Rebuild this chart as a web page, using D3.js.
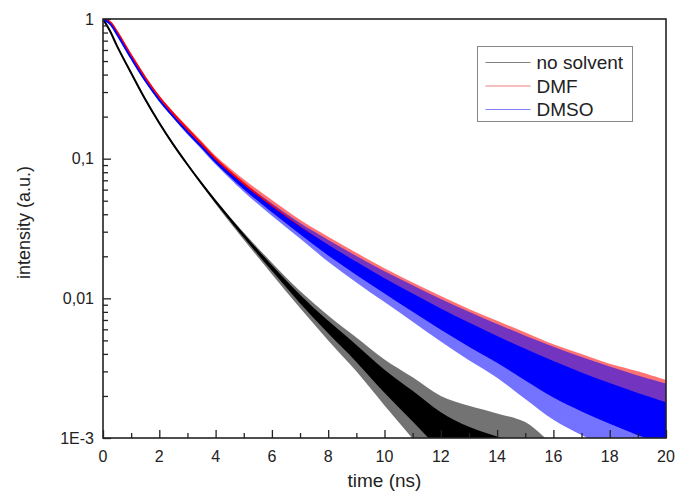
<!DOCTYPE html>
<html>
<head>
<meta charset="utf-8">
<title>decay</title>
<style type="text/css">
    body{ margin:0; background:#fff; }
    svg text{ font-family:"Liberation Sans", Arial, sans-serif; fill:#222; }
</style>
</head>
<body>
<div id="chart"></div>

<script src="https://cdn.jsdelivr.net/npm/d3@7"></script>
<script type="text/javascript">

// time axis (ns)
var times = [0, 0.25, 0.5, 1, 1.5, 2, 2.5, 3, 3.5, 4, 5, 6, 7, 8, 9, 10, 11, 12, 13, 14, 15, 16, 17, 18, 19, 20];

// no solvent: centre of the trace, plus upper / lower edge of the noise
var noSolventMid = [1, 0.82, 0.64, 0.41, 0.266, 0.180, 0.126, 0.0908, 0.0665, 0.0494, 0.0282, 0.0166, 0.0100, 0.0063, 0.0041, 0.0026, 0.00174, 0.00117, 0.00085, 0.0007, 0.0006, 0.0005, 0.0004, 0.00035, 0.0003, 0.00025];
var noSolventHi  = [1, 0.83, 0.65, 0.416, 0.270, 0.183, 0.128, 0.0922, 0.0678, 0.0509, 0.0296, 0.0180, 0.0113, 0.00755, 0.00525, 0.00365, 0.00272, 0.00200, 0.0017, 0.0015, 0.0013, 0.0009, 0.0007, 0.0006, 0.0005, 0.0004];
var noSolventLo  = [1, 0.81, 0.63, 0.402, 0.260, 0.176, 0.123, 0.0889, 0.0647, 0.0474, 0.0263, 0.0149, 0.00853, 0.0050, 0.0030, 0.00171, 0.00099, 0.00058, 0.0004, 0.0003, 0.0003, 0.0002, 0.0002, 0.0002, 0.0002, 0.0002];

// DMF
var dmfMid = [1, 0.95, 0.81, 0.55, 0.381, 0.276, 0.210, 0.163, 0.128, 0.100, 0.0663, 0.0459, 0.0324, 0.0235, 0.0174, 0.0131, 0.00991, 0.0076, 0.0059, 0.00464, 0.00369, 0.00296, 0.0024, 0.00197, 0.00165, 0.00139];
var dmfHi  = [1, 0.96, 0.82, 0.56, 0.388, 0.281, 0.216, 0.170, 0.134, 0.105, 0.0712, 0.0505, 0.0365, 0.0276, 0.0212, 0.0164, 0.0130, 0.0104, 0.0084, 0.0069, 0.0057, 0.0047, 0.0040, 0.0034, 0.0030, 0.0026];
var dmfLo  = [1, 0.93, 0.79, 0.54, 0.366, 0.266, 0.201, 0.156, 0.123, 0.0953, 0.0620, 0.0425, 0.0298, 0.0205, 0.0150, 0.0110, 0.0082, 0.0062, 0.0045, 0.0035, 0.0027, 0.0021, 0.0017, 0.0014, 0.0012, 0.0010];

// DMSO
var dmsoMid = [1, 0.923, 0.776, 0.525, 0.363, 0.263, 0.200, 0.155, 0.122, 0.0955, 0.0631, 0.0437, 0.0309, 0.0224, 0.0166, 0.01245, 0.00944, 0.00724, 0.00562, 0.00442, 0.00351, 0.00282, 0.00229, 0.00188, 0.00157, 0.00132];
var dmsoHi  = [1, 0.937, 0.788, 0.533, 0.368, 0.267, 0.204, 0.160, 0.126, 0.0993, 0.0672, 0.0477, 0.0346, 0.0262, 0.0201, 0.0156, 0.0124, 0.00990, 0.00800, 0.00655, 0.00540, 0.00450, 0.00380, 0.00325, 0.00280, 0.00245];
var dmsoLo  = [1, 0.914, 0.768, 0.515, 0.356, 0.258, 0.195, 0.149, 0.117, 0.0908, 0.0580, 0.0390, 0.0268, 0.0183, 0.0130, 0.0094, 0.0068, 0.0049, 0.0036, 0.0027, 0.0019, 0.00135, 0.00105, 0.00085, 0.0007, 0.0006];

var xTicks = [0, 2, 4, 6, 8, 10, 12, 14, 16, 18, 20];
var yTicks = [1, 0.1, 0.01, 0.001];
var yTickLabels = ["1", "0,1", "0,01", "1E-3"];

var seriesNames = ["no solvent", "DMF", "DMSO"];
var seriesColors = ["#000000", "#ff0000", "#0000ff"];
var legendColors = ["#808080", "#ee8080", "#8080ff"];

/*-----------------------------------------------------------------------*/
var width = 677, height = 497;
var margin = {left:103, right:11, top:19, bottom:59};
var plotW = width - margin.left - margin.right,
    plotH = height - margin.top - margin.bottom;

var x = d3.scaleLinear().domain([0, 20]).range([0, plotW]);
var y = d3.scaleLog().domain([0.001, 1]).range([plotH, 0]);

var svg = d3.select('#chart').append('svg')
    .attr('width', width).attr('height', height);

var g = svg.append('g').attr('transform', 'translate(' + margin.left + ',' + margin.top + ')');

g.append('clipPath').attr('id', 'clip')
    .append('rect').attr('width', plotW).attr('height', plotH);

// DMF gets no solid core: it mostly hides under DMSO, only its spikes show
var series = [
    {mid:noSolventMid, hi:noSolventHi, lo:noSolventLo, core:true},
    {mid:dmfMid, hi:dmfHi, lo:dmfLo, core:false},
    {mid:dmsoMid, hi:dmsoHi, lo:dmsoLo, core:true}
];

var smooth = d3.curveCatmullRom.alpha(0.5);

var band = d3.area()
    .x(function(d, i){ return x(times[i]); })
    .y0(function(d){ return y(d[0]); })
    .y1(function(d){ return y(d[1]); })
    .curve(smooth);

var line = d3.line()
    .x(function(d, i){ return x(times[i]); })
    .y(function(d){ return y(d); })
    .curve(smooth);

var plot = g.append('g').attr('clip-path', 'url(#clip)');

// outer noise envelopes first, soft
series.forEach(function(s, k){
    var outer = s.lo.map(function(v, i){ return [v, s.hi[i]]; });
    plot.append('path')
        .attr('d', band(outer))
        .style('fill', seriesColors[k])
        .style('opacity', 0.55);
});

// dense core (geometric midpoint between centre and envelope) + centre line
series.forEach(function(s, k){
    if(s.core){
        var core = s.lo.map(function(v, i){ return [Math.sqrt(v*s.mid[i]), Math.sqrt(s.hi[i]*s.mid[i])]; });
        plot.append('path')
            .attr('d', band(core))
            .style('fill', seriesColors[k]);
    }
    plot.append('path')
        .attr('d', line(s.mid))
        .style('fill', 'none')
        .style('stroke', seriesColors[k])
        .style('stroke-width', 2);
});

// axes - ticks pointing inside
var xAxis = d3.axisBottom(x).tickValues(d3.range(0, 21, 1)).tickSize(-8).tickFormat('');
var xg = g.append('g').attr('transform', 'translate(0,' + plotH + ')').call(xAxis);
xg.selectAll('.tick line').attr('y2', function(d){ return d % 2 ? -5 : -8; });

xg.selectAll('.lab').data(xTicks).enter().append('text')
    .attr('x', function(d){ return x(d); })
    .attr('y', 24)
    .attr('text-anchor', 'middle')
    .style('font-size', '16px')
    .text(function(d){ return d; });

var minorY = [];
[0.001, 0.01, 0.1].forEach(function(dec){ for(var m=1; m<10; m++) minorY.push(dec*m); });
minorY.push(1);

var yAxis = d3.axisLeft(y).tickValues(minorY).tickSize(-5).tickFormat('');
var yg = g.append('g').call(yAxis);
yg.selectAll('.tick line').attr('x2', function(d){ return yTicks.indexOf(d) >= 0 ? 8 : 5; });

yg.selectAll('.lab').data(yTicks).enter().append('text')
    .attr('x', -9)
    .attr('y', function(d){ return y(d); })
    .attr('dy', '0.36em')
    .attr('text-anchor', 'end')
    .style('font-size', '16px')
    .text(function(d, i){ return yTickLabels[i]; });

g.selectAll('.domain').remove();
g.selectAll('.tick line').style('stroke', '#222').style('stroke-width', 1.3);

g.append('rect')
    .attr('width', plotW).attr('height', plotH)
    .style('fill', 'none').style('stroke', '#222').style('stroke-width', 1.6);

// titles
svg.append('text')
    .attr('x', margin.left + plotW/2).attr('y', 487)
    .attr('text-anchor', 'middle')
    .style('font-size', '19px')
    .text('time (ns)');

svg.append('text')
    .attr('transform', 'translate(30,' + (margin.top + plotH/2 - 6) + ') rotate(-90)')
    .attr('text-anchor', 'middle')
    .style('font-size', '18px')
    .text('intensity (a.u.)');

// legend
var lg = svg.append('g').attr('transform', 'translate(477.5,46.5)');
lg.append('rect').attr('width', 155).attr('height', 75)
    .style('fill', '#fff').style('stroke', '#888').style('stroke-width', 1);

var rows = lg.selectAll('.row').data(seriesNames).enter().append('g')
    .attr('transform', function(d, i){ return 'translate(0,' + (16 + i*23.5) + ')'; });
rows.append('line').attr('x1', 8).attr('x2', 53)
    .style('stroke', function(d, i){ return legendColors[i]; })
    .style('stroke-width', 1.2);
rows.append('text').attr('x', 59).attr('dy', '0.36em')
    .style('font-size', '19px')
    .text(function(d){ return d; });

</script>
</body>
</html>
